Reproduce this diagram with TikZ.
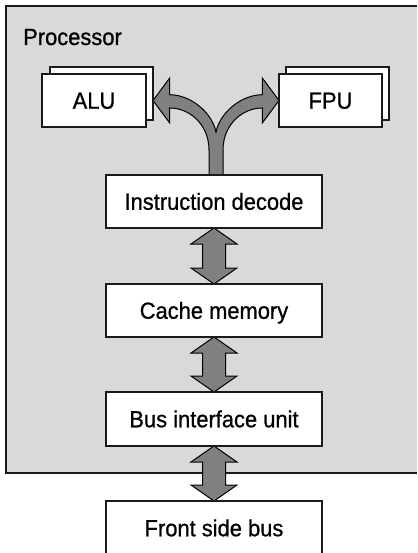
\documentclass[tikz,border=0pt]{standalone}
\usepackage{fontspec}
\setmainfont{Liberation Sans}[FakeStretch=0.94, FakeBold=0.8]
\usetikzlibrary{calc,backgrounds}

\definecolor{panel}{HTML}{D9D9D9}
\definecolor{flowgray}{HTML}{808080}
\definecolor{edge}{HTML}{1A1A1A}

\tikzset{
  labelfont/.style={font=\fontsize{23.3}{26}\selectfont},
  unitbox/.style={draw=edge, line width=1.2pt, fill=white, inner sep=0pt,
    outer sep=0pt, labelfont, text height=16.5pt, text depth=0pt},
  stagebox/.style={unitbox, minimum width=216pt, minimum height=53pt},
  smallbox/.style={unitbox, minimum width=103pt, minimum height=53pt},
  flow/.style={fill=flowgray, draw=black, line width=1pt, line join=miter},
}

% two-headed block arrow between a box and the box below it
\newcommand\dualarrow[2]{%
  \path[flow] (#1.south) -- ++(23,16) -- ++(-11.5,0)
    -- ($(#2.north)+(11.5,-16)$) -- ++(11.5,0) -- (#2.north)
    -- ++(-23,-16) -- ++(11.5,0)
    -- ($(#1.south)+(-11.5,16)$) -- ++(-11.5,0) -- cycle;}

\begin{document}
\begin{tikzpicture}[x=1pt,y=-1pt]
\useasboundingbox (0,0) rectangle (417,553);

% processor label
\node[labelfont, anchor=base west, inner sep=0pt] (proc) at (23,45) {Processor};

% execution units, each with a second sheet behind it
\node[smallbox] (alub) at (101.5,93.5) {};
\node[smallbox, minimum width=104pt] (alu) at (94,100.5) {ALU};
\node[smallbox] (fpub) at (337.5,93.5) {};
\node[smallbox] (fpu) at (330.5,100.5) {FPU};

% pipeline stages
\node[stagebox] (id) at (214,201.5) {Instruction decode};
\node[stagebox] (cm) at (214,310.5) {Cache memory};
\node[stagebox, minimum height=54pt] (biu) at (214,419) {Bus interface unit};
\node[stagebox, minimum height=54pt, anchor=north] (fsb) at (214,501) {Front side bus};

\begin{pgfonlayer}{background}
  % processor panel, running off the right edge
  \fill[panel] (6,6) rectangle (417,473);
  \draw[edge, line width=2pt] (417,6) -- (6,6) -- (6,473) -- (417,473);

  % forked arrow from the decoder to both execution units
  \coordinate (ltip) at (alub.east |- alu.east);
  \coordinate (rtip) at (fpu.west);
  \begin{scope}[shift={($(id.north)+(2,0)$)}]
    \path[flow] (-7,0) -- (-7,-25)
      .. controls (-7,-50) and (-26,-67) .. (-46.3,-67)
      -- (-46.3,-52) -- (ltip) -- (-46.3,-97)
      -- (-46.3,-80.3)
      .. controls (-26,-80.3) and (-4,-63) .. (0,-43)
      .. controls (4,-63) and (26,-80.3) .. (46.3,-80.3)
      -- (46.3,-97) -- (rtip) -- (46.3,-52)
      -- (46.3,-67)
      .. controls (26,-67) and (7,-50) .. (7,-25)
      -- (7,0) -- cycle;
  \end{scope}

  % links between the stages
  \dualarrow{id}{cm}
  \dualarrow{cm}{biu}
  \dualarrow{biu}{fsb}
\end{pgfonlayer}
\end{tikzpicture}
\end{document}
